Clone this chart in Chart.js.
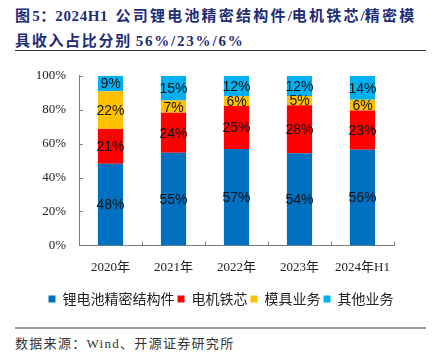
<!DOCTYPE html>
<html>
<head>
<meta charset="utf-8">
<script src="https://cdn.jsdelivr.net/npm/chart.js@4"></script>
<style>
  html, body { margin:0; padding:0; background:#fff; }
  #wrap { position:relative; width:442px; height:356px; overflow:hidden; background:#fff; }
  .title { position:absolute; left:15px; font-family:"Liberation Serif","Noto Sans CJK SC",serif; font-weight:bold; font-size:15px; color:#1f2c78; white-space:nowrap; }
  .title .c { letter-spacing:2.2px; }
  #t2 .c { letter-spacing:1.7px; }
  #t1 .l { letter-spacing:0.6px; }
  #t2 .l { letter-spacing:1.8px; }
  #t1 { top:4px; }
  #t2 { top:29px; }
  .rule { position:absolute; left:15px; width:411px; height:1px; }
  #r1 { top:50px; background:#333; }
  #r2 { top:327px; background:#999; height:1.5px; }
  #src { position:absolute; left:15px; top:333px; font-family:"Liberation Serif","Noto Sans CJK SC",serif; font-size:13px; color:#333; letter-spacing:1.3px; white-space:nowrap; }
  #cv { position:absolute; left:0; top:55px; }
</style>
</head>
<body>
<div id="wrap">
  <div class="title" id="t1"><span class="c">图</span><span class="l">5</span><span>：</span><span class="l">2024H1</span>&nbsp;&nbsp;<span class="c">公司锂电池精密结构件</span>/<span class="c">电机铁芯</span>/<span class="c">精密模</span></div>
  <div class="title" id="t2"><span class="c">具收入占比分别</span> <span class="l">56%/23%/6%</span></div>
  <div class="rule" id="r1"></div>
  <canvas id="cv" width="442" height="265"></canvas>
  <div class="rule" id="r2"></div>
  <div id="src">数据来源：Wind、开源证券研究所</div>
</div>
<script>
const categories = ["2020年", "2021年", "2022年", "2023年", "2024年H1"];
const seriesNames = ["锂电池精密结构件", "电机铁芯", "模具业务", "其他业务"];
const batteryParts = [48.1, 54.6, 56.8, 54.4, 56.4];
const motorCore = [20.6, 23.6, 25.4, 28.3, 23.1];
const moldBusiness = [22.2, 7.2, 5.8, 5.4, 6.4];
const otherBusiness = [9.1, 14.6, 12.0, 11.9, 14.1];
const yTicks = [0, 20, 40, 60, 80, 100];

const colors = ["#0070C0", "#FF0000", "#FFC000", "#00B0F0"];
const seriesValues = [batteryParts, motorCore, moldBusiness, otherBusiness];

const labelPlugin = {
  id: "segLabels",
  afterDatasetsDraw(chart) {
    const ctx = chart.ctx;
    ctx.save();
    ctx.font = '14px "Liberation Sans", Arial, sans-serif';
    ctx.fillStyle = "#111";
    ctx.textAlign = "center";
    ctx.textBaseline = "middle";
    chart.data.datasets.forEach((ds, di) => {
      const meta = chart.getDatasetMeta(di);
      meta.data.forEach((el, i) => {
        const y = (el.y + el.base) / 2;
        ctx.fillText(Math.round(ds.data[i]) + "%", el.x, y + 1);
      });
    });
    ctx.restore();
  }
};

const tickPlugin = {
  id: "innerTicks",
  afterDraw(chart) {
    const ctx = chart.ctx;
    const ca = chart.chartArea;
    const xs = chart.scales.x, ys = chart.scales.y;
    ctx.save();
    ctx.strokeStyle = "#7f7f7f";
    ctx.lineWidth = 1;
    ctx.beginPath();
    ys.ticks.forEach((t, i) => {
      const y = Math.round(ys.getPixelForTick(i)) + 0.5;
      ctx.moveTo(ca.left, y);
      ctx.lineTo(ca.left + 4, y);
    });
    for (let i = 0; i <= categories.length; i++) {
      const x = Math.round(xs.getPixelForValue(i - 0.5)) + 0.5;
      ctx.moveTo(x, ca.bottom);
      ctx.lineTo(x, ca.bottom - 4);
    }
    ctx.stroke();
    ctx.restore();
  }
};

new Chart(document.getElementById("cv"), {
  type: "bar",
  data: {
    labels: categories,
    datasets: seriesNames.map((n, i) => ({
      label: n,
      data: seriesValues[i],
      backgroundColor: colors[i],
      borderWidth: 0,
      barPercentage: 0.4,
      categoryPercentage: 1.0
    }))
  },
  options: {
    responsive: false,
    animation: false,
    devicePixelRatio: 1,
    layout: { padding: { left: 0, right: 0, top: 20, bottom: 4 } },
    plugins: {
      tooltip: { enabled: false },
      legend: {
        position: "bottom",
        labels: {
          boxWidth: 7,
          boxHeight: 7,
          padding: 3,
          color: "#222",
          font: { family: '"Noto Sans CJK SC", sans-serif', size: 14 }
        }
      }
    },
    scales: {
      x: {
        stacked: true,
        grid: { display: false, drawTicks: false },
        border: { display: true, color: "#7f7f7f", width: 1 },
        ticks: {
          padding: 14,
          color: "#222",
          font: { family: '"Liberation Serif", "Noto Sans CJK SC", serif', size: 13 }
        }
      },
      y: {
        stacked: true,
        min: 0,
        max: 100,
        afterFit(s) { s.width = 79; },
        afterBuildTicks(s) { s.ticks = yTicks.map(v => ({ value: v })); },
        grid: { display: false, drawTicks: false },
        border: { display: true, color: "#7f7f7f", width: 1 },
        ticks: {
          padding: 13,
          color: "#222",
          font: { family: '"Liberation Serif", serif', size: 13 },
          callback: v => v + "%"
        }
      },
      yRight: {
        type: "linear",
        position: "right",
        min: 0,
        max: 100,
        afterFit(s) { s.width = 48; },
        grid: { display: false, drawTicks: false },
        border: { display: false },
        ticks: { display: false }
      }
    }
  },
  plugins: [labelPlugin, tickPlugin]
});
</script>
</body>
</html>
